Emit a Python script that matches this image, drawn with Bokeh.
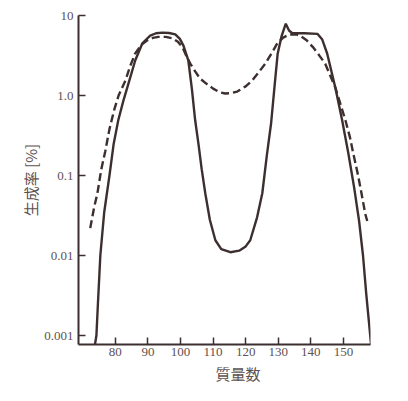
from bokeh.plotting import figure
from bokeh.models import Range1d, FixedTicker, CustomJSTickFormatter, Title
from bokeh.embed import file_html
from bokeh.resources import INLINE

# Solid curve (mass number, yield %)
mass_solid = [73.7, 74.2, 74.7, 75.4, 76.6, 78.2, 79.5, 80.9, 82.5, 84.0, 86.1, 88.3, 90.7,
              92.5, 94.4, 96.5, 98.4, 99.8, 100.9, 102.4, 103.5, 104.5, 105.5, 106.5, 107.6,
              109.0, 110.7, 112.5, 115.3, 118.0, 120.0, 121.4, 123.5, 125.1, 126.5, 127.8,
              129.0, 129.8, 131.0, 132.3, 133.3, 134.3, 138.0, 142.0, 143.5, 145.0, 147.5,
              149.6, 151.5, 153.3, 154.8, 156.0, 157.0, 157.8, 158.5]
yield_solid = [0.00075, 0.001, 0.0027, 0.01, 0.035, 0.1, 0.25, 0.49, 0.87, 1.4, 2.74, 4.5, 5.6,
               6.0, 6.1, 6.05, 5.8, 5.1, 4.2, 2.74, 1.2, 0.49, 0.25, 0.12, 0.06,
               0.028, 0.0155, 0.012, 0.011, 0.0115, 0.013, 0.0155, 0.03, 0.06, 0.18, 0.45,
               1.5, 3.3, 5.5, 7.9, 6.5, 6.0, 6.0, 5.9, 5.0, 3.35, 1.26,
               0.49, 0.19, 0.07, 0.027, 0.01, 0.0033, 0.0015, 0.00075]

# Dashed curve (mass number, yield %)
mass_dashed = [72.3, 73.5, 74.5, 75.7, 76.9, 78.2, 79.6, 81.0, 83.1, 84.5, 86.1, 88.0, 89.8,
               91.5, 93.2, 95.5, 97.5, 99.2, 100.6, 102.0, 103.0, 104.5, 106.0, 108.0, 110.0,
               112.0, 113.7, 115.5, 117.4, 120.0, 122.0, 124.0, 126.0, 128.0, 129.7, 131.5,
               133.5, 135.5, 136.7, 138.7, 140.7, 142.5, 144.4, 146.0, 147.5, 149.0, 150.6,
               152.0, 153.0, 154.5, 155.7, 156.7, 157.3]
yield_dashed = [0.022, 0.04, 0.06, 0.12, 0.2, 0.38, 0.65, 1.0, 1.54, 2.3, 3.35, 4.3, 4.9,
                5.25, 5.4, 5.4, 5.2, 4.7, 4.0, 3.0, 2.5, 2.0, 1.63, 1.4, 1.22,
                1.1, 1.06, 1.07, 1.12, 1.3, 1.54, 1.95, 2.5, 3.4, 4.5, 5.3,
                5.8, 5.8, 5.6, 4.9, 4.0, 3.2, 2.5, 1.75, 1.26, 0.8, 0.49,
                0.3, 0.19, 0.1, 0.055, 0.033, 0.027]

x_ticks = [80, 90, 100, 110, 120, 130, 140, 150]
y_ticks = [0.001, 0.01, 0.1, 1.0, 10]
y_tick_labels = ["0.001", "0.01", "0.1", "1.0", "10"]

x_label = "質量数"
y_label = "生成率 [%]"

line_color = "#3d2f2f"
text_color = "#5e5250"
serif = "Liberation Serif"
cjk = "Noto Sans CJK JP"

p = figure(width=408, height=401,
           x_range=Range1d(68.7, 158.3), y_range=Range1d(0.000772, 10),
           y_axis_type="log", output_backend="svg", toolbar_location=None,
           min_border_left=78, min_border_right=38, min_border_top=15, min_border_bottom=57)

p.line(mass_solid, yield_solid, line_color=line_color, line_width=2.4)
p.line(mass_dashed, yield_dashed, line_color=line_color, line_width=2.4, line_dash="8 4")

p.grid.visible = False
p.outline_line_color = None
p.background_fill_color = "white"
p.border_fill_color = "white"

for ax in (p.xaxis[0], p.yaxis[0]):
    ax.axis_line_color = line_color
    ax.axis_line_width = 2
    ax.major_tick_line_color = line_color
    ax.major_tick_line_width = 1.5
    ax.major_tick_in = 7
    ax.major_tick_out = 0
    ax.minor_tick_line_color = None
    ax.major_label_text_font = serif
    ax.major_label_text_font_size = "13px"
    ax.major_label_text_color = text_color
    ax.axis_label_text_font = cjk
    ax.axis_label_text_font_style = "normal"
    ax.axis_label_text_color = text_color
    ax.axis_label_text_font_size = "15px"

p.xaxis.ticker = FixedTicker(ticks=x_ticks)
p.xaxis.major_label_standoff = 3

p.yaxis.ticker = FixedTicker(ticks=y_ticks)
p.yaxis.formatter = CustomJSTickFormatter(args=dict(tvals=y_ticks, tlabels=y_tick_labels), code="""
for (let i = 0; i < tvals.length; i++) {
  if (Math.abs(Math.log10(tick) - Math.log10(tvals[i])) < 1e-6) return tlabels[i];
}
return "";
""")
p.yaxis.major_label_standoff = 5
p.yaxis.axis_label = y_label
p.yaxis.axis_label_standoff = 0

p.add_layout(Title(text=x_label, align="left", offset=137, standoff=4,
                   text_font=cjk, text_font_size="15px", text_font_style="normal",
                   text_color=text_color), "below")

open("out.html", "w").write(file_html(p, INLINE))
